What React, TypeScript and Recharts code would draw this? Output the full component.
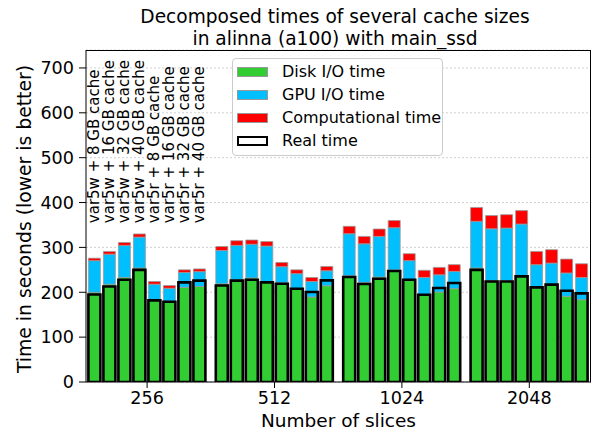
import React from "react";
import {
  BarChart,
  Bar,
  XAxis,
  YAxis,
  CartesianGrid,
  Legend,
  LabelList,
} from "recharts";

// slice counts on the x axis
const slices = ["256", "512", "1024", "2048"];

// one bar per cache configuration inside every slice group
const configs = [
  "var5w + 8 GB cache",
  "var5w + 16 GB cache",
  "var5w + 32 GB cache",
  "var5w + 40 GB cache",
  "var5r + 8 GB cache",
  "var5r + 16 GB cache",
  "var5r + 32 GB cache",
  "var5r + 40 GB cache",
];

// seconds, [slice][config]
const diskTime = [
  [200, 218, 233, 254, 184, 180, 211, 213],
  [219, 228, 232, 224, 221, 208, 189.5, 214.5],
  [237, 222, 234, 250, 226, 194, 200.5, 208],
  [254, 226, 226, 237.5, 210, 216, 191, 183.5],
];
const gpuTime = [
  [70.5, 67, 71.5, 69, 34, 29, 33, 33],
  [74, 76.5, 75, 79, 36, 33.5, 34.5, 33.5],
  [93.5, 86, 90.5, 94, 44.5, 39, 38.5, 38.5],
  [104, 115.5, 117, 114.5, 51.5, 49, 52, 49.5],
];
const compTime = [
  [5.5, 6, 6.5, 7, 6, 6, 6, 6],
  [9, 10.5, 9.5, 10, 9.5, 8.5, 9, 9.5],
  [16.5, 16.5, 16.5, 16, 15.5, 16, 16.5, 15],
  [31, 29.5, 30, 30, 29.5, 30, 31, 30.5],
];
const realTime = [
  [195, 213, 228, 250, 182, 179, 222, 226],
  [215, 226, 228, 222, 219, 208, 200.5, 226.5],
  [234, 218.5, 230, 247.5, 228, 194.5, 209.5, 220.5],
  [250, 224, 224, 235.5, 211, 217, 203.5, 197.5],
];

const yTicks = [0, 100, 200, 300, 400, 500, 600, 700];
const labelHeight = 354; // data value where the rotated config names start

const FONT = "'DejaVu Sans', sans-serif";
const GREEN = "#32cd32";
const CYAN = "#00bfff";
const RED = "#ff0000";

const data = slices.map((s, gi) => {
  const row: Record<string, number | string> = { slice: s };
  configs.forEach((_, ci) => {
    row[`disk${ci}`] = diskTime[gi][ci];
    row[`gpu${ci}`] = gpuTime[gi][ci];
    row[`comp${ci}`] = compTime[gi][ci];
    row[`real${ci}`] = realTime[gi][ci];
  });
  return row;
});

const legendItems = [
  { name: "Disk I/O time", fill: GREEN, border: "1px solid #999" },
  { name: "GPU I/O time", fill: CYAN, border: "1px solid #999" },
  { name: "Computational time", fill: RED, border: "1px solid #999" },
  { name: "Real time", fill: "#fff", border: "2px solid #000" },
];

function LegendBox() {
  return (
    <div
      style={{
        width: 209,
        height: 95,
        border: "1px solid #cccccc",
        borderRadius: 4,
        background: "rgba(255,255,255,0.85)",
        fontFamily: FONT,
        fontSize: 16,
        color: "#000",
        paddingTop: 1,
        boxSizing: "content-box",
      }}
    >
      {legendItems.map((it) => (
        <div
          key={it.name}
          style={{ display: "flex", alignItems: "center", height: 23 }}
        >
          <span
            style={{
              display: "inline-block",
              width: 31,
              height: 10,
              marginLeft: 4,
              marginRight: 14,
              background: it.fill,
              border: it.border,
              boxSizing: "border-box",
            }}
          />
          <span>{it.name}</span>
        </div>
      ))}
    </div>
  );
}

function configLabel(ci: number) {
  return (props: any) => {
    if (props.index !== 0) return null;
    const vb = props.viewBox || props;
    const x = vb.x ?? props.x;
    const y = vb.y ?? props.y;
    const w = vb.width ?? props.width;
    const h = vb.height ?? props.height;
    const v = Number(props.value);
    const pxPerUnit = h / v;
    const cx = x + w / 2;
    const cy = y + h - labelHeight * pxPerUnit;
    return (
      <text
        x={cx}
        y={cy}
        transform={`rotate(-90 ${cx} ${cy})`}
        textAnchor="start"
        dominantBaseline="central"
        fontFamily={FONT}
        fontSize={15}
        fill="#000"
      >
        {configs[ci]}
      </text>
    );
  };
}

export default function App() {
  return (
    <div
      style={{
        position: "absolute",
        left: 0,
        top: 0,
        width: 597,
        height: 433,
        background: "#fff",
        fontFamily: FONT,
      }}
    >
      <div
        style={{
          position: "absolute",
          left: 135,
          width: 400,
          top: 6,
          textAlign: "center",
          fontSize: 18.6,
          lineHeight: "22px",
          color: "#000",
        }}
      >
        Decomposed times of several cache sizes
        <br />
        in alinna (a100) with main_ssd
      </div>
      <BarChart
        width={597}
        height={433}
        data={data}
        margin={{ top: 50, right: 6, bottom: 0, left: 0 }}
        barGap={3}
        barSize={12}
      >
        <CartesianGrid
          xAxisId="main"
          vertical={false}
          stroke="#d0d0d0"
          strokeDasharray="2 2"
        />
        <XAxis
          xAxisId="main"
          dataKey="slice"
          height={51}
          padding={{ left: -2.6, right: -2 }}
          tickSize={6}
          tickMargin={4}
          stroke="#000"
          tick={{ fill: "#000", fontSize: 17.6, fontFamily: FONT }}
          label={{
            value: "Number of slices",
            position: "center",
            dy: 13,
            fill: "#000",
            fontSize: 18.5,
            fontFamily: FONT,
          }}
        />
        <XAxis
          xAxisId="real"
          dataKey="slice"
          hide
          padding={{ left: -2.6, right: -2 }}
        />
        <YAxis
          width={86}
          domain={[0, 740]}
          ticks={yTicks}
          allowDataOverflow
          tickSize={7}
          tickMargin={5}
          stroke="#000"
          tick={{ fill: "#000", fontSize: 17.6, fontFamily: FONT }}
          label={{
            value: "Time in seconds (lower is better)",
            angle: -90,
            position: "center",
            dx: -19,
            dy: 3,
            fill: "#000",
            fontSize: 18.8,
            fontFamily: FONT,
          }}
        />
        {configs.flatMap((_, ci) => [
          <Bar
            key={`disk${ci}`}
            xAxisId="main"
            dataKey={`disk${ci}`}
            stackId={`s${ci}`}
            fill={GREEN}
            stroke="#9a9a9a"
            strokeWidth={0.8}
            isAnimationActive={false}
          />,
          <Bar
            key={`gpu${ci}`}
            xAxisId="main"
            dataKey={`gpu${ci}`}
            stackId={`s${ci}`}
            fill={CYAN}
            stroke="#9a9a9a"
            strokeWidth={0.8}
            isAnimationActive={false}
          />,
          <Bar
            key={`comp${ci}`}
            xAxisId="main"
            dataKey={`comp${ci}`}
            stackId={`s${ci}`}
            fill={RED}
            stroke="#9a9a9a"
            strokeWidth={0.8}
            isAnimationActive={false}
          />,
        ])}
        {configs.map((_, ci) => (
          <Bar
            key={`real${ci}`}
            xAxisId="real"
            dataKey={`real${ci}`}
            fill="none"
            stroke="#000"
            strokeWidth={2.6}
            isAnimationActive={false}
          >
            <LabelList dataKey={`real${ci}`} content={configLabel(ci)} />
          </Bar>
        ))}
        <Legend
          layout="vertical"
          align="center"
          verticalAlign="middle"
          content={() => <LegendBox />}
          wrapperStyle={{ position: "absolute", left: 232, top: 58, width: "auto" }}
        />
      </BarChart>
      <div
        style={{
          position: "absolute",
          left: 86,
          top: 50,
          width: 505,
          height: 332,
          borderTop: "1px solid #000",
          borderRight: "1px solid #000",
          boxSizing: "border-box",
          pointerEvents: "none",
        }}
      />
    </div>
  );
}
